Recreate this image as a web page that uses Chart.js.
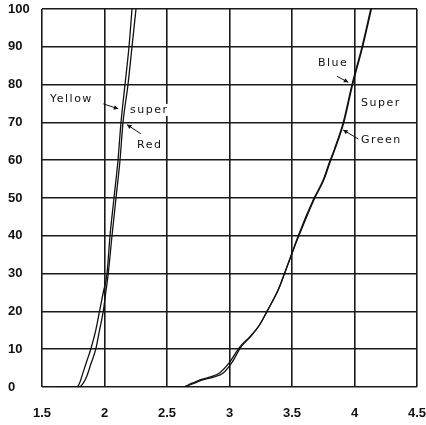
<!DOCTYPE html>
<html><head><meta charset="utf-8">
<script src="https://cdn.jsdelivr.net/npm/chart.js@4/dist/chart.umd.min.js"></script>
<style>html,body{margin:0;padding:0;background:#fff;} #wrap{width:426px;height:425px;}</style>
</head><body><div id="wrap"><canvas id="c" width="426" height="425"></canvas></div>
<script>
const xTicks = [1.5, 2, 2.5, 3, 3.5, 4, 4.5];
const yTicks = [0, 10, 20, 30, 40, 50, 60, 70, 80, 90, 100];

const yellowX = [1.62, 1.78, 1.80, 1.83, 1.86, 1.89, 1.93, 1.96, 1.99, 2.02, 2.044, 2.076, 2.108, 2.132, 2.164, 2.196, 2.22];
const yellowY = [0, 0, 1, 4, 7, 10, 15, 20, 25, 30, 40, 50, 60, 70, 80, 90, 100];
const redX = [1.62, 1.80, 1.83, 1.86, 1.89, 1.93, 1.96, 1.99, 2.01, 2.03, 2.06, 2.092, 2.124, 2.148, 2.188, 2.22, 2.252];
const redY = [0, 0, 1, 3, 6, 10, 15, 20, 25, 30, 40, 50, 60, 70, 80, 90, 100];
const blueX = [2.5, 2.62, 2.7, 2.76, 2.84, 2.92, 3.0, 3.08, 3.16, 3.24, 3.3, 3.39, 3.44, 3.5, 3.55, 3.67, 3.75, 3.80, 3.84, 3.91, 3.98, 4.06, 4.13];
const blueY = [0, 0, 1, 1.8, 2.6, 3.7, 6.5, 10.5, 13.2, 16.4, 20, 25.7, 30, 35.4, 40, 49.5, 54.8, 59.5, 63, 70, 80, 90, 100];
const greenX = [2.5, 2.62, 2.72, 2.78, 2.87, 2.95, 3.02, 3.09, 3.165, 3.24, 3.3, 3.39, 3.44, 3.5, 3.555, 3.675, 3.755, 3.805, 3.845, 3.915, 3.985, 4.065, 4.135];
const greenY = [0, 0, 1, 1.8, 2.6, 3.7, 6.5, 10.5, 13.2, 16.4, 20, 25.7, 30, 35.4, 40, 49.5, 54.8, 59.5, 63, 70, 80, 90, 100];

// annotation texts (data coordinates of left edge / vertical middle)
const labels = [
  {text: 'Yellow', x: 1.564, y: 76.2},
  {text: 'super', x: 2.204, y: 73.3},
  {text: 'Red', x: 2.26, y: 64.0},
  {text: 'Blue', x: 3.708, y: 85.7},
  {text: 'Super', x: 4.052, y: 75.1},
  {text: 'Green', x: 4.052, y: 65.3}
];
// arrows: from (x1,y1) to head (x2,y2), data coordinates
const arrows = [
  {x1: 1.99, y1: 74.9, x2: 2.11, y2: 73.6},
  {x1: 2.29, y1: 67.0, x2: 2.18, y2: 69.4},
  {x1: 3.86, y1: 82.2, x2: 3.95, y2: 80.6},
  {x1: 4.03, y1: 65.6, x2: 3.91, y2: 68.0}
];

function pts(xs, ys) { return xs.map((x, i) => ({x: x, y: ys[i]})); }

const annot = {
  id: 'annot',
  afterDatasetsDraw(chart) {
    const ctx = chart.ctx, xs = chart.scales.x, ys = chart.scales.y;
    ctx.save();
    ctx.font = '11px "DejaVu Sans"';
    try { ctx.letterSpacing = '1.5px'; } catch (e) {}
    ctx.textBaseline = 'middle';
    ctx.textAlign = 'left';
    labels.forEach(l => {
      const px = xs.getPixelForValue(l.x), py = ys.getPixelForValue(l.y);
      ctx.fillStyle = '#fff';
      const w = ctx.measureText(l.text).width;
      ctx.fillRect(px - 1, py - 6, w + 2, 12);
      ctx.fillStyle = '#111';
      ctx.fillText(l.text, px, py);
    });
    ctx.strokeStyle = '#111';
    ctx.fillStyle = '#111';
    ctx.lineWidth = 1;
    arrows.forEach(a => {
      const x1 = xs.getPixelForValue(a.x1), y1 = ys.getPixelForValue(a.y1);
      const x2 = xs.getPixelForValue(a.x2), y2 = ys.getPixelForValue(a.y2);
      ctx.beginPath(); ctx.moveTo(x1, y1); ctx.lineTo(x2, y2); ctx.stroke();
      const ang = Math.atan2(y2 - y1, x2 - x1), L = 5;
      ctx.beginPath();
      ctx.moveTo(x2, y2);
      ctx.lineTo(x2 - L * Math.cos(ang - 0.5), y2 - L * Math.sin(ang - 0.5));
      ctx.lineTo(x2 - L * Math.cos(ang + 0.5), y2 - L * Math.sin(ang + 0.5));
      ctx.closePath(); ctx.fill();
    });
    ctx.restore();
  }
};

const lineStyle = {showLine: true, pointRadius: 0, borderColor: '#111', borderWidth: 1.3, cubicInterpolationMode: 'monotone', fill: false};

new Chart(document.getElementById('c'), {
  type: 'scatter',
  data: {
    datasets: [
      Object.assign({label: 'Yellow', data: pts(yellowX, yellowY)}, lineStyle),
      Object.assign({label: 'Super Red', data: pts(redX, redY)}, lineStyle),
      Object.assign({label: 'Blue', data: pts(blueX, blueY)}, lineStyle),
      Object.assign({label: 'Super Green', data: pts(greenX, greenY)}, lineStyle)
    ]
  },
  options: {
    responsive: false,
    animation: false,
    events: [],
    layout: {padding: {top: 9, right: 9, left: 8, bottom: 0}},
    plugins: {legend: {display: false}, tooltip: {enabled: false}},
    scales: {
      x: {
        type: 'linear', min: 1.5, max: 4.5,
        afterBuildTicks: s => { s.ticks = xTicks.map(v => ({value: v})); },
        afterFit: s => { s.height = 38; s.paddingLeft = 0; s.paddingRight = 0; },
        grid: {color: '#1a1a1a', lineWidth: 1.6, drawTicks: false},
        border: {display: false},
        ticks: {color: '#111', padding: 19, maxRotation: 0, autoSkip: false,
          font: {family: '"Liberation Sans"', size: 13, weight: 'bold'},
          callback: v => String(v)}
      },
      y: {
        type: 'linear', min: 0, max: 100,
        afterBuildTicks: s => { s.ticks = yTicks.map(v => ({value: v})); },
        afterFit: s => { s.width = 34; s.paddingTop = 0; s.paddingBottom = 0; },
        grid: {color: '#1a1a1a', lineWidth: 1.6, drawTicks: false},
        border: {display: false},
        ticks: {color: '#111', padding: 8, crossAlign: 'far', autoSkip: false,
          font: {family: '"Liberation Sans"', size: 13, weight: 'bold'},
          callback: v => String(v)}
      }
    }
  },
  plugins: [annot]
});
</script>
</body></html>
